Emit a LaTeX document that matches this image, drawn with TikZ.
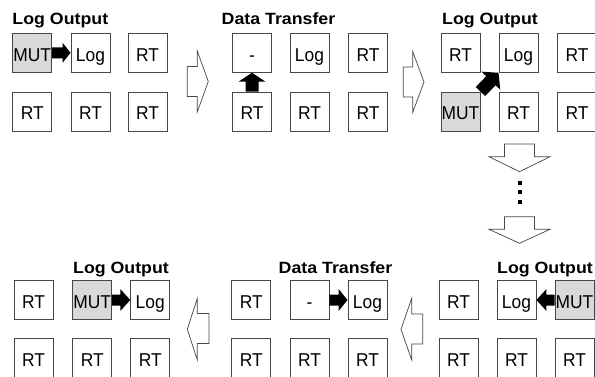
\documentclass[tikz,border=0pt]{standalone}
\usepackage{fontspec}
\setmainfont{Liberation Sans}
\newfontfamily\cellfont[FakeStretch=0.935]{Liberation Sans}
\newfontfamily\titlefont[FakeStretch=1.09]{Liberation Sans}
\usetikzlibrary{calc}
\definecolor{mutgray}{RGB}{217,217,217}
\definecolor{edgegray}{RGB}{70,70,70}
\tikzset{
  cell/.style={draw=edgegray, line width=0.9pt, minimum width=39pt, minimum height=39pt,
    inner sep=0pt, text height=17pt, text depth=0pt,
    font=\cellfont\fontsize{18.6}{20}\selectfont},
  mutcell/.style={cell, fill=mutgray},
  paneltitle/.style={font=\titlefont\bfseries\fontsize{16.3}{20}\selectfont, inner sep=0pt, anchor=base},
  bigarrow/.style={draw=edgegray, line width=0.7pt, fill=white, line join=miter},
}
% block arrow from #1 to #2: half shaft #3, half head #4, head length #5 (pt)
\newcommand{\blockarrow}[5]{%
  \fill let \p1=(#1), \p2=(#2), \n1={atan2(\y2-\y1,\x2-\x1)},
    \n2={veclen(\x2-\x1,\y2-\y1)}, \n3={\n2-#5pt} in
    [shift={(\p1)}, rotate=\n1]
    (0pt,-#3pt) -- (\n3,-#3pt) -- (\n3,-#4pt) -- (\n2,0pt) --
    (\n3,#4pt) -- (\n3,#3pt) -- (0pt,#3pt) -- cycle;}
\begin{document}
\begin{tikzpicture}[x=1pt,y=-1pt]
\useasboundingbox (0,0) rectangle (595,377);
\clip (0,0) rectangle (595,377);

% ---------- Panel A ----------
\node[paneltitle, anchor=base west] (tA) at (12.3,24.2) {Log Output};
\node[mutcell] (a11) at (32.2,52.8) {MUT};
\node[cell] (a12) at (90.5,52.8) {Log};
\node[cell] (a13) at (147.5,52.8) {RT};
\node[cell] (a21) at (32.2,111.5) {RT};
\node[cell] (a22) at (90.5,111.5) {RT};
\node[cell] (a23) at (147.5,111.5) {RT};
\blockarrow{a11.east}{a12.west}{5.5}{10}{8}

% ---------- Panel B ----------
\node[paneltitle] (tB) at (278.5,24.2) {Data Transfer};
\node[cell] (b11) at (252,52.8) {-};
\node[cell] (b12) at (309.5,52.8) {Log};
\node[cell] (b13) at (368,52.8) {RT};
\node[cell] (b21) at (252,111.5) {RT};
\node[cell] (b22) at (309.5,111.5) {RT};
\node[cell] (b23) at (368,111.5) {RT};
\blockarrow{b21.north}{b11.south}{6.5}{13.5}{9}

% ---------- Panel C ----------
\node[paneltitle] (tC) at (490,24.2) {Log Output};
\node[cell] (c11) at (460.5,52.8) {RT};
\node[cell] (c12) at (518.5,52.8) {Log};
\node[cell] (c13) at (577,52.8) {RT};
\node[mutcell] (c21) at (460.5,111.5) {MUT};
\node[cell] (c22) at (518.5,111.5) {RT};
\node[cell] (c23) at (577,111.5) {RT};
\blockarrow{c21.north east}{c12.south west}{6.5}{13}{11}

% ---------- Panel D ----------
\node[paneltitle] (tD) at (121,273.3) {Log Output};
\node[cell] (d11) at (33.5,300) {RT};
\node[mutcell] (d12) at (92.2,300) {MUT};
\node[cell] (d13) at (150.2,300) {Log};
\node[cell] (d21) at (33.5,358) {RT};
\node[cell] (d22) at (92.2,358) {RT};
\node[cell] (d23) at (150.2,358) {RT};
\blockarrow{d12.east}{d13.west}{5.5}{11}{10}

% ---------- Panel E ----------
\node[paneltitle] (tE) at (335.5,273.3) {Data Transfer};
\node[cell] (e11) at (251.2,300) {RT};
\node[cell] (e12) at (309.5,300) {-};
\node[cell] (e13) at (367.5,300) {Log};
\node[cell] (e21) at (251.2,358) {RT};
\node[cell] (e22) at (309.5,358) {RT};
\node[cell] (e23) at (367.5,358) {RT};
\blockarrow{e12.east}{e13.west}{5.5}{11}{9}

% ---------- Panel F ----------
\node[paneltitle] (tF) at (545,273.3) {Log Output};
\node[cell] (f11) at (458.5,300) {RT};
\node[cell] (f12) at (516.5,300) {Log};
\node[mutcell] (f13) at (574.5,300) {MUT};
\node[cell] (f21) at (458.5,358) {RT};
\node[cell] (f22) at (516.5,358) {RT};
\node[cell] (f23) at (574.5,358) {RT};
\blockarrow{f13.west}{f12.east}{5.5}{11}{10}

% ---------- big step arrows ----------
\draw[bigarrow] (187.3,66.5) -- (197.3,66.5) -- (197.3,51) -- (208.3,81.5) -- (197.3,112) -- (197.3,96.5) -- (187.3,96.5) -- cycle;
\draw[bigarrow] (403.3,67) -- (412.7,67) -- (412.7,51.5) -- (424,82) -- (412.7,112.5) -- (412.7,97) -- (403.3,97) -- cycle;
\draw[bigarrow] (504.5,144) -- (534.5,144) -- (534.5,156.7) -- (550,156.7) -- (519.5,171.7) -- (489,156.7) -- (504.5,156.7) -- cycle;
\draw[bigarrow] (504.5,216.7) -- (534.5,216.7) -- (534.5,229.3) -- (550,229.3) -- (519.5,243.3) -- (489,229.3) -- (504.5,229.3) -- cycle;
\draw[bigarrow] (209,313.5) -- (197.3,313.5) -- (197.3,298.3) -- (187.3,329.3) -- (197.3,360) -- (197.3,343.5) -- (209,343.5) -- cycle;
\draw[bigarrow] (422.7,314) -- (411.7,314) -- (411.7,298.3) -- (401,329.3) -- (411.7,360) -- (411.7,344) -- (422.7,344) -- cycle;

% ---------- ellipsis dots ----------
\foreach \yy in {182.7,192.5,202.3}
  \fill (518,\yy-2) rectangle (522,\yy+2);
\end{tikzpicture}
\end{document}
